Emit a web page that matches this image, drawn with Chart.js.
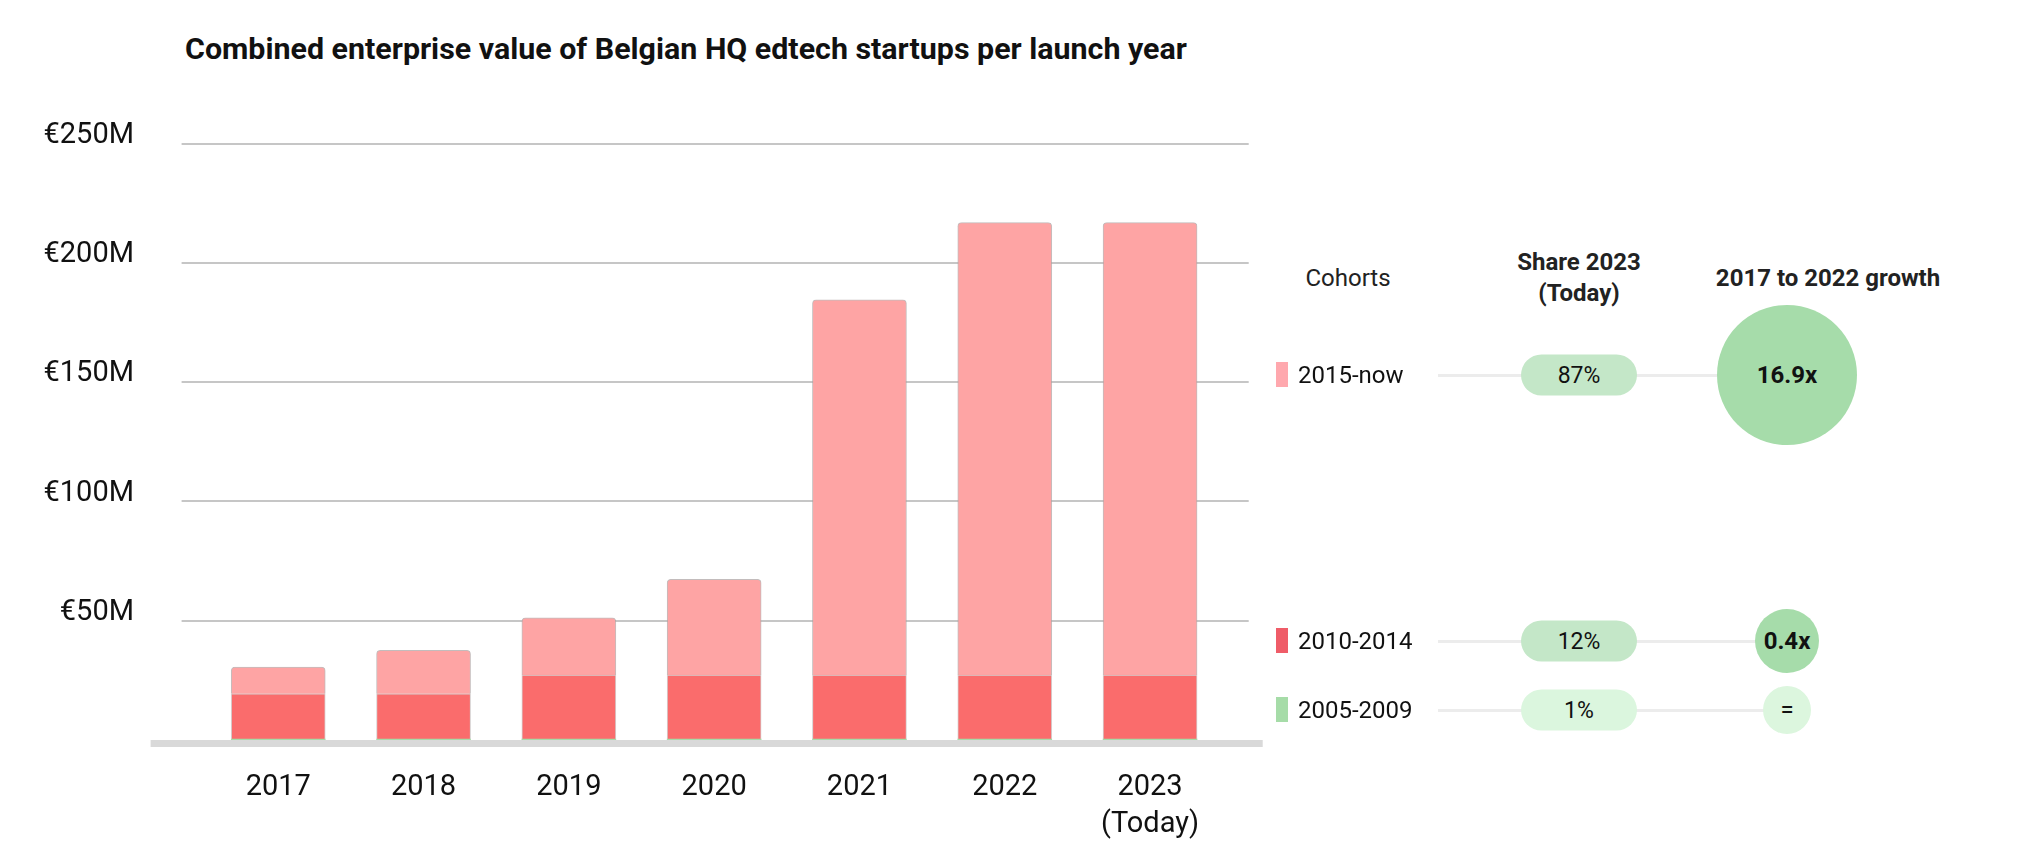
<!DOCTYPE html>
<html>
<head>
<meta charset="utf-8">
<script src="https://cdn.jsdelivr.net/npm/chart.js@4.4.0/dist/chart.umd.min.js"></script>
<style>
  html, body { margin: 0; padding: 0; background: #fff; }
  body { width: 2040px; height: 844px; position: relative; overflow: hidden; font-family: Roboto, "Noto Sans", sans-serif; color: #111; }
  #title { position: absolute; left: 185px; top: 34px; font-weight: 700; font-size: 30.4px; line-height: 30px; white-space: nowrap; color: #111; }
  #chartWrap { position: absolute; left: 0; top: 0; width: 1300px; height: 844px; }
  .c { position: absolute; transform: translate(-50%, -50%); white-space: nowrap; text-align: center; }
  .head { font-size: 24px; color: #222; }
  .bold { font-weight: 700; }
  .swatch { position: absolute; width: 12px; height: 25px; }
  .rowLabel { position: absolute; font-size: 24px; transform: translateY(-50%); white-space: nowrap; }
  .line { position: absolute; height: 3px; background: #ececec; }
  .pill { position: absolute; width: 116px; height: 41px; border-radius: 21px; transform: translate(-50%, -50%); display: flex; align-items: center; justify-content: center; font-size: 23px; }
  .bubble { position: absolute; border-radius: 50%; transform: translate(-50%, -50%); display: flex; align-items: center; justify-content: center; font-size: 24px; }
</style>
</head>
<body>
<div id="title">Combined enterprise value of Belgian HQ edtech startups per launch year</div>
<div id="chartWrap"><canvas id="chart"></canvas></div>
<div id="panel"></div>
<script>
// bar chart data (€M)
const years = ['2017', '2018', '2019', '2020', '2021', '2022', ['2023', '(Today)']];
const cohort2005 = [0.4, 0.4, 0.4, 0.4, 0.4, 0.4, 0.4];
const cohort2010 = [19.0, 19.0, 26.8, 26.8, 26.8, 26.8, 26.8];
const cohort2015 = [11.2, 18.2, 24.0, 40.2, 157.3, 189.7, 189.7];
const yTicks = [0, 50, 100, 150, 200, 250];

// side table
const cohortNames = ['2015-now', '2010-2014', '2005-2009'];
const share2023 = ['87%', '12%', '1%'];
const growth = ['16.9x', '0.4x', '='];

const colors = {
  c2015: '#fea4a4',
  c2010: '#fa6c6c',
  c2005: '#a6dba8'
};

const gridPlugin = {
  id: 'gridAndBase',
  beforeDatasetsDraw(chart) {
    const { ctx, chartArea, scales: { y } } = chart;
    ctx.save();
    ctx.strokeStyle = '#c6c6c6';
    ctx.lineWidth = 2;
    y.ticks.forEach(t => {
      if (t.value === 0) return;
      const py = Math.round(y.getPixelForValue(t.value));
      ctx.beginPath();
      ctx.moveTo(chartArea.left - 24, py);
      ctx.lineTo(chartArea.right + 26, py);
      ctx.stroke();
    });
    ctx.restore();
  },
  afterDatasetsDraw(chart) {
    const { ctx, chartArea, scales: { y } } = chart;
    const py = y.getPixelForValue(0);
    ctx.save();
    ctx.fillStyle = '#d9d9d9';
    ctx.fillRect(chartArea.left - 55, py, chartArea.right - chartArea.left + 95, 7);
    ctx.restore();
  }
};

new Chart(document.getElementById('chart'), {
  type: 'bar',
  data: {
    labels: years,
    datasets: [
      { label: '2005-2009', data: cohort2005, backgroundColor: colors.c2005, borderWidth: 0 },
      { label: '2010-2014', data: cohort2010, backgroundColor: colors.c2010,
        borderColor: 'rgba(170,160,160,0.5)', borderWidth: { top: 1, left: 1, right: 1, bottom: 0 } },
      { label: '2015-now', data: cohort2015, backgroundColor: colors.c2015,
        borderColor: 'rgba(170,160,160,0.7)', borderWidth: { top: 1, left: 1, right: 1, bottom: 0 },
        borderRadius: { topLeft: 4, topRight: 4 }, borderSkipped: 'bottom' }
    ]
  },
  options: {
    responsive: true,
    maintainAspectRatio: false,
    animation: false,
    layout: { padding: { top: 143.7, right: 77.3, left: 0, bottom: 0 } },
    plugins: { legend: { display: false }, tooltip: { enabled: false }, title: { display: false } },
    datasets: { bar: { barThickness: 94 } },
    scales: {
      x: {
        stacked: true,
        grid: { display: false },
        border: { display: false },
        ticks: { color: '#111', font: { family: 'Roboto', size: 29, lineHeight: 1.276 }, padding: 21.5, maxRotation: 0 },
        afterFit: s => { s.height = 104; }
      },
      y: {
        stacked: true,
        min: 0,
        max: 250,
        grid: { display: false, drawTicks: false },
        border: { display: false },
        afterBuildTicks: s => { s.ticks = yTicks.map(v => ({ value: v })); },
        ticks: {
          color: '#111',
          font: { family: 'Roboto', size: 29 },
          padding: 71.6,
          labelOffset: -8,
          callback: v => v === 0 ? '' : '€' + v + 'M'
        },
        afterFit: s => { s.width = 205.6; }
      }
    }
  },
  plugins: [gridPlugin]
});

// side panel (custom legend table)
const panel = document.getElementById('panel');
function add(cls, css, text) {
  const el = document.createElement('div');
  el.className = cls;
  Object.assign(el.style, css);
  if (text !== undefined) el.textContent = text;
  panel.appendChild(el);
  return el;
}
add('c head', { left: '1348px', top: '278px' }, 'Cohorts');
add('c head bold', { left: '1579px', top: '278px', lineHeight: '31px' }).innerHTML = 'Share 2023<br>(Today)';
add('c head bold', { left: '1828px', top: '278px' }, '2017 to 2022 growth');

const rowY = [375, 641, 710];
const swatchColors = ['#ffa8ae', '#ef5c68', '#a6dca8'];
const pillColors = ['#c4e7c8', '#c4e7c8', '#dbf6de'];
const bubbleColors = ['#a6dcaa', '#a6dcaa', '#dcf6de'];
const bubbleR = [70, 32, 24];
const bubbleX = 1787;

cohortNames.forEach((name, i) => {
  const y = rowY[i];
  add('line', { left: '1438px', top: (y - 1.5) + 'px', width: (bubbleX - 1438) + 'px' });
  add('swatch', { left: '1276px', top: (y - 13) + 'px', background: swatchColors[i] });
  add('rowLabel', { left: '1298px', top: y + 'px' }, name);
  add('pill', { left: '1579px', top: y + 'px', background: pillColors[i] }, share2023[i]);
  add('bubble', {
    left: bubbleX + 'px', top: y + 'px',
    width: (bubbleR[i] * 2) + 'px', height: (bubbleR[i] * 2) + 'px',
    background: bubbleColors[i], fontWeight: growth[i] === '=' ? '400' : '700'
  }, growth[i]);
});
</script>
</body>
</html>
